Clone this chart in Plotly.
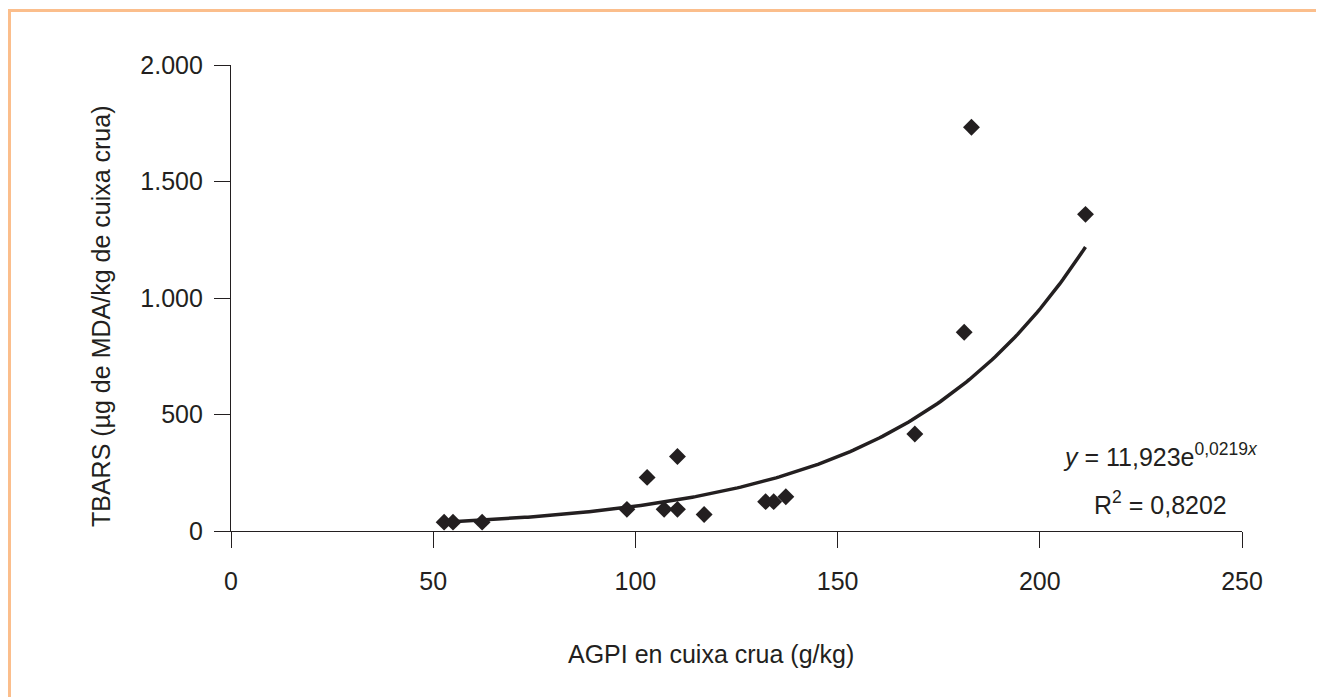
import numpy as np
import plotly.graph_objects as go

# Data
agpi = [52.7, 54.9, 62.1, 97.9, 102.9, 107.1, 110.4, 110.4, 117.0,
        132.2, 134.2, 137.2, 169.1, 181.3, 183.1, 211.3]
tbars = [38, 38, 38, 93, 230, 93, 320, 93, 71,
         126, 126, 147, 416, 853, 1733, 1359]

# Exponential trend line shown on the chart: y = a * exp(b x)
fit_a = 11.923
fit_b = 0.0219
r2_text = "R<sup>2</sup> = 0,8202"
eq_text = "<i>y</i> = 11,923e<sup>0,0219<i>x</i></sup>"

x_ticks = [0, 50, 100, 150, 200, 250]
y_ticks = [0, 500, 1000, 1500, 2000]

x_title = "AGPI en cuixa crua (g/kg)"
y_title = "TBARS (µg de MDA/kg de cuixa crua)"

ink = "#231f20"
font_family = "Liberation Sans, Arial, sans-serif"
fs = 25

xs = np.linspace(min(agpi), max(agpi), 200)
ys = fit_a * np.exp(fit_b * xs)

fig = go.Figure()
fig.add_trace(go.Scatter(x=xs, y=ys, mode="lines",
                         line=dict(color=ink, width=3.5), hoverinfo="skip",
                         showlegend=False))
fig.add_trace(go.Scatter(x=agpi, y=tbars, mode="markers",
                         marker=dict(symbol="diamond", size=13, color=ink,
                                     line=dict(width=0)),
                         showlegend=False))

OFF = 8  # page body margin
W, H = 1324 - OFF, 697 - OFF
L, T = 231 - OFF, 65 - OFF
R = W - (1242 - OFF)
B = H - (531 - OFF)
pw, ph = W - L - R, H - T - B


def px_x(p):
    # screen pixel -> paper coordinate
    return (p - OFF - L) / pw


def px_y(p):
    return (H - B - (p - OFF)) / ph


border = "#fbbe8c"
fig.add_shape(type="line", xref="paper", yref="paper",
              x0=px_x(8), x1=px_x(1330), y0=px_y(10.5), y1=px_y(10.5),
              line=dict(color=border, width=3))
fig.add_shape(type="line", xref="paper", yref="paper",
              x0=px_x(9.5), x1=px_x(9.5), y0=px_y(9), y1=px_y(700),
              line=dict(color=border, width=3))

fig.add_annotation(text=eq_text, xref="paper", yref="paper",
                   x=px_x(1160), y=px_y(455), showarrow=False,
                   xanchor="center", yanchor="middle",
                   font=dict(size=fs, color=ink, family=font_family))
fig.add_annotation(text=r2_text, xref="paper", yref="paper",
                   x=px_x(1160), y=px_y(503), showarrow=False,
                   xanchor="center", yanchor="middle",
                   font=dict(size=fs, color=ink, family=font_family))

# axis titles
fig.add_annotation(text=x_title, xref="paper", yref="paper",
                   x=px_x(711), y=px_y(654), showarrow=False,
                   xanchor="center", yanchor="middle",
                   font=dict(size=fs, color=ink, family=font_family))
fig.add_annotation(text=y_title, xref="paper", yref="paper", textangle=-90,
                   x=px_x(101), y=px_y(316), showarrow=False,
                   xanchor="center", yanchor="middle",
                   font=dict(size=fs, color=ink, family=font_family))

fig.update_layout(
    width=W, height=H,
    margin=dict(l=L, r=R, t=T, b=B, pad=0),
    paper_bgcolor="white", plot_bgcolor="white",
    separators=",.",
    font=dict(family=font_family, size=fs, color=ink),
    xaxis=dict(range=[0, 250], tickvals=x_ticks, ticks="outside", ticklen=16,
               tickwidth=1.3, tickcolor=ink, showline=True, linecolor=ink,
               linewidth=1.3, showgrid=False, zeroline=False,
               ticklabelstandoff=12),
    yaxis=dict(range=[0, 2000], tickvals=y_ticks, tickformat=",.0f",
               ticks="outside", ticklen=16, tickwidth=1.3, tickcolor=ink,
               showline=True, linecolor=ink, linewidth=1.3, showgrid=False,
               zeroline=False, ticklabelstandoff=6),
)

fig.write_html("out.html")
